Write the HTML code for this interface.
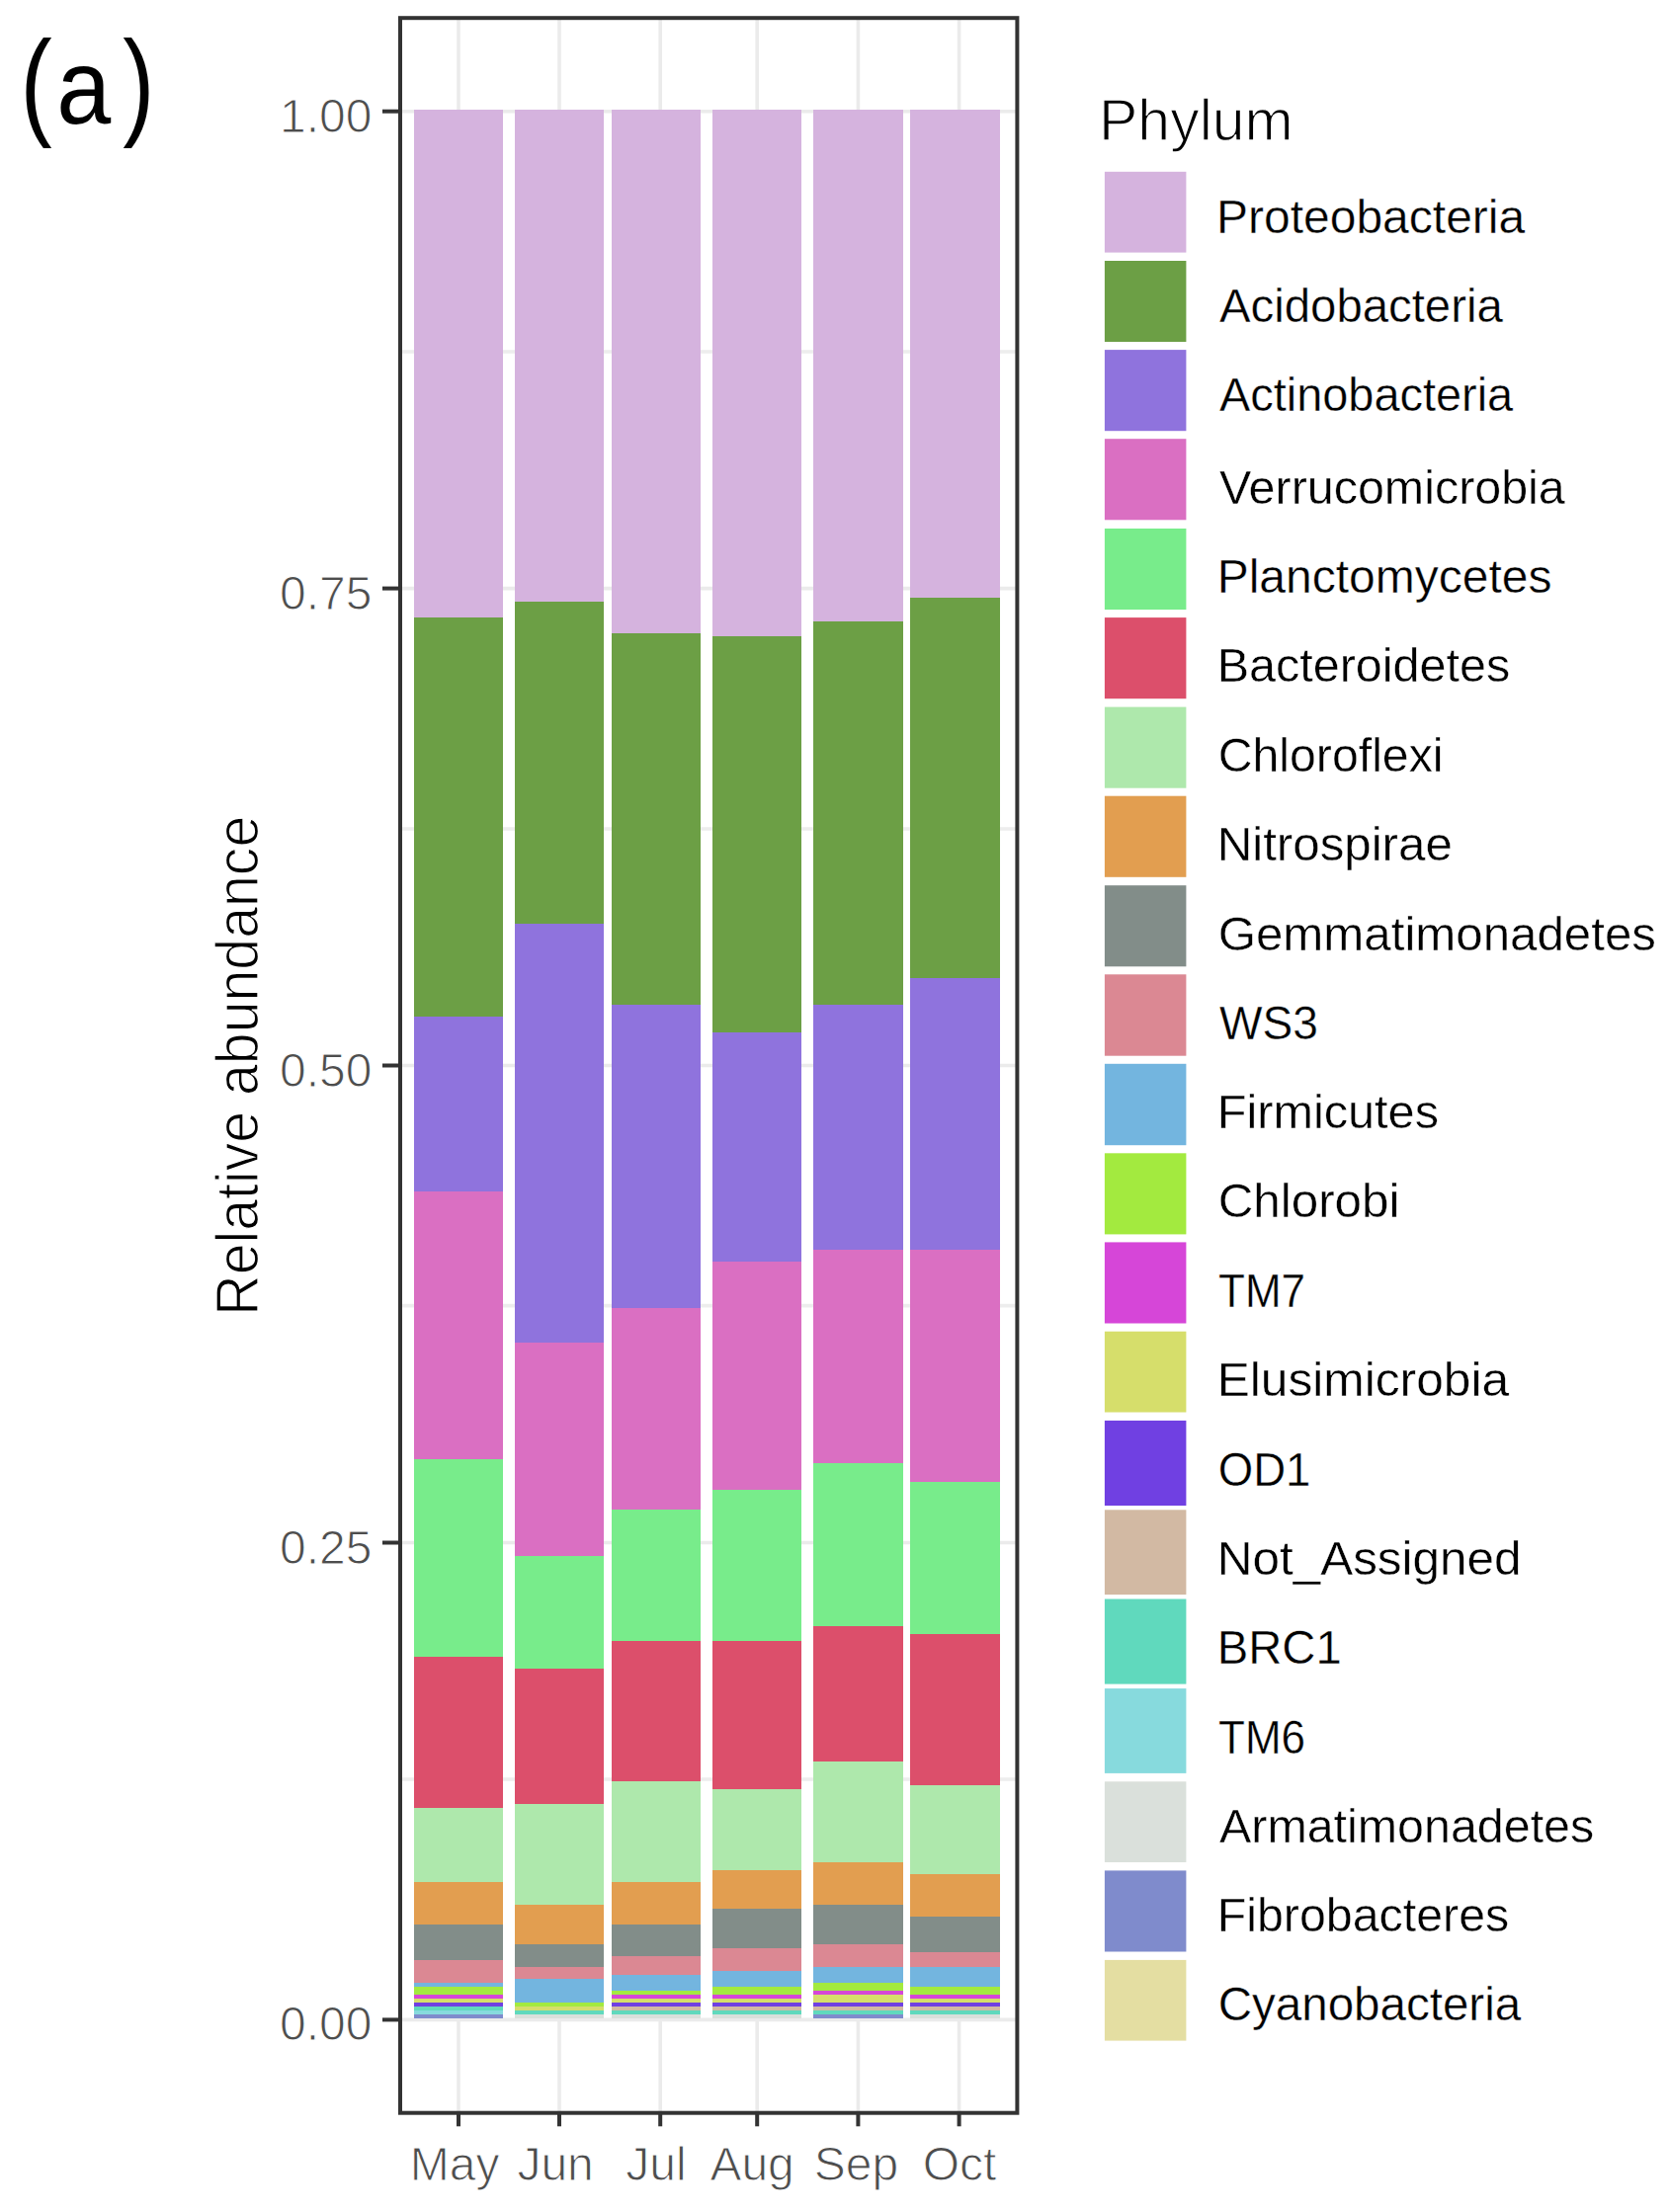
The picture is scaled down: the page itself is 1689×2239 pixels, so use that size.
<!DOCTYPE html>
<html lang="en"><head><meta charset="utf-8"><title>Relative abundance by Phylum</title>
<style>html,body{margin:0;padding:0;background:#fff}svg{display:block}text{font-family:"Liberation Sans",sans-serif}.ax{font-size:48px;fill:#4d4d4d;stroke:#fff;stroke-width:1px}.lg{font-size:48px;fill:#000;stroke:#fff;stroke-width:.4px}.tt{font-size:59px;fill:#000;stroke:#fff;stroke-width:1.3px}</style></head><body>
<svg width="1689" height="2239" viewBox="0 0 1689 2239">
<rect width="1689" height="2239" fill="#fff"/>
<g stroke="#ebebeb" fill="none">
<line x1="405" x2="1029.4" y1="356.0" y2="356.0" stroke-width="3.6" stroke="#ededed"/>
<line x1="405" x2="1029.4" y1="839.0" y2="839.0" stroke-width="3.6" stroke="#ededed"/>
<line x1="405" x2="1029.4" y1="1321.6" y2="1321.6" stroke-width="3.6" stroke="#ededed"/>
<line x1="405" x2="1029.4" y1="1801.0" y2="1801.0" stroke-width="3.6" stroke="#ededed"/>
<line x1="405" x2="1029.4" y1="112.7" y2="112.7" stroke-width="3.6"/>
<line x1="405" x2="1029.4" y1="595.6" y2="595.6" stroke-width="3.6"/>
<line x1="405" x2="1029.4" y1="1078.5" y2="1078.5" stroke-width="3.6"/>
<line x1="405" x2="1029.4" y1="1561.5" y2="1561.5" stroke-width="3.6"/>
<line x1="405" x2="1029.4" y1="2044.4" y2="2044.4" stroke-width="3.6"/>
<line x1="464" x2="464" y1="18.2" y2="2138.7" stroke-width="3.6"/>
<line x1="566" x2="566" y1="18.2" y2="2138.7" stroke-width="3.6"/>
<line x1="668.2" x2="668.2" y1="18.2" y2="2138.7" stroke-width="3.6"/>
<line x1="766.2" x2="766.2" y1="18.2" y2="2138.7" stroke-width="3.6"/>
<line x1="868.4" x2="868.4" y1="18.2" y2="2138.7" stroke-width="3.6"/>
<line x1="970.6" x2="970.6" y1="18.2" y2="2138.7" stroke-width="3.6"/>
</g>
<g shape-rendering="crispEdges">
<rect x="418.6" y="111" width="90.4" height="514.1" fill="#D5B3DE"/>
<rect x="418.6" y="624.8" width="90.4" height="404.8" fill="#6C9F45"/>
<rect x="418.6" y="1029.3" width="90.4" height="176.8" fill="#8F73DD"/>
<rect x="418.6" y="1205.8" width="90.4" height="271.0" fill="#DA6FC2"/>
<rect x="418.6" y="1476.5" width="90.4" height="200.9" fill="#78EC8B"/>
<rect x="418.6" y="1677.1" width="90.4" height="153.2" fill="#DC4F6B"/>
<rect x="418.6" y="1830" width="90.4" height="75.1" fill="#AEE8AC"/>
<rect x="418.6" y="1904.8" width="90.4" height="43.3" fill="#E29E50"/>
<rect x="418.6" y="1947.8" width="90.4" height="36.0" fill="#828D89"/>
<rect x="418.6" y="1983.5" width="90.4" height="24.0" fill="#DB8893"/>
<rect x="418.6" y="2007.2" width="90.4" height="4.1" fill="#73B5DF"/>
<rect x="418.6" y="2011" width="90.4" height="8.2" fill="#A3EA3F"/>
<rect x="418.6" y="2018.9" width="90.4" height="4.5" fill="#D646D8"/>
<rect x="418.6" y="2023.1" width="90.4" height="4.1" fill="#D6DE6B"/>
<rect x="418.6" y="2026.9" width="90.4" height="4.3" fill="#7040E2"/>
<rect x="418.6" y="2030.9" width="90.4" height="4.2" fill="#60D9BD"/>
<rect x="418.6" y="2034.8" width="90.4" height="4.3" fill="#87DADD"/>
<rect x="418.6" y="2038.8" width="90.4" height="4.1" fill="#7F8BCC"/>
<rect x="520.8" y="111" width="90.2" height="498.4" fill="#D5B3DE"/>
<rect x="520.8" y="609.1" width="90.2" height="326.2" fill="#6C9F45"/>
<rect x="520.8" y="935" width="90.2" height="424.1" fill="#8F73DD"/>
<rect x="520.8" y="1358.8" width="90.2" height="216.2" fill="#DA6FC2"/>
<rect x="520.8" y="1574.7" width="90.2" height="114.6" fill="#78EC8B"/>
<rect x="520.8" y="1689" width="90.2" height="137.5" fill="#DC4F6B"/>
<rect x="520.8" y="1826.2" width="90.2" height="102.3" fill="#AEE8AC"/>
<rect x="520.8" y="1928.2" width="90.2" height="39.9" fill="#E29E50"/>
<rect x="520.8" y="1967.8" width="90.2" height="23.8" fill="#828D89"/>
<rect x="520.8" y="1991.3" width="90.2" height="12.1" fill="#DB8893"/>
<rect x="520.8" y="2003.1" width="90.2" height="24.1" fill="#73B5DF"/>
<rect x="520.8" y="2026.9" width="90.2" height="4.3" fill="#A3EA3F"/>
<rect x="520.8" y="2030.9" width="90.2" height="4.2" fill="#D6DE6B"/>
<rect x="520.8" y="2034.8" width="90.2" height="4.3" fill="#60D9BD"/>
<rect x="520.8" y="2038.8" width="90.2" height="4.1" fill="#DAE0DB"/>
<rect x="619.0" y="111" width="90.2" height="529.8" fill="#D5B3DE"/>
<rect x="619.0" y="640.5" width="90.2" height="377.2" fill="#6C9F45"/>
<rect x="619.0" y="1017.4" width="90.2" height="306.8" fill="#8F73DD"/>
<rect x="619.0" y="1323.9" width="90.2" height="203.9" fill="#DA6FC2"/>
<rect x="619.0" y="1527.5" width="90.2" height="134.1" fill="#78EC8B"/>
<rect x="619.0" y="1661.3" width="90.2" height="141.5" fill="#DC4F6B"/>
<rect x="619.0" y="1802.5" width="90.2" height="102.6" fill="#AEE8AC"/>
<rect x="619.0" y="1904.8" width="90.2" height="43.3" fill="#E29E50"/>
<rect x="619.0" y="1947.8" width="90.2" height="32.1" fill="#828D89"/>
<rect x="619.0" y="1979.6" width="90.2" height="20.0" fill="#DB8893"/>
<rect x="619.0" y="1999.3" width="90.2" height="16.0" fill="#73B5DF"/>
<rect x="619.0" y="2015" width="90.2" height="4.2" fill="#A3EA3F"/>
<rect x="619.0" y="2018.9" width="90.2" height="4.5" fill="#D646D8"/>
<rect x="619.0" y="2023.1" width="90.2" height="4.1" fill="#D6DE6B"/>
<rect x="619.0" y="2026.9" width="90.2" height="4.3" fill="#7040E2"/>
<rect x="619.0" y="2030.9" width="90.2" height="4.2" fill="#D2B9A3"/>
<rect x="619.0" y="2034.8" width="90.2" height="4.3" fill="#60D9BD"/>
<rect x="619.0" y="2038.8" width="90.2" height="4.1" fill="#DAE0DB"/>
<rect x="721.0" y="111" width="90.3" height="533.7" fill="#D5B3DE"/>
<rect x="721.0" y="644.4" width="90.3" height="400.9" fill="#6C9F45"/>
<rect x="721.0" y="1045" width="90.3" height="232.0" fill="#8F73DD"/>
<rect x="721.0" y="1276.7" width="90.3" height="231.6" fill="#DA6FC2"/>
<rect x="721.0" y="1508" width="90.3" height="153.6" fill="#78EC8B"/>
<rect x="721.0" y="1661.3" width="90.3" height="149.5" fill="#DC4F6B"/>
<rect x="721.0" y="1810.5" width="90.3" height="82.8" fill="#AEE8AC"/>
<rect x="721.0" y="1893" width="90.3" height="39.7" fill="#E29E50"/>
<rect x="721.0" y="1932.4" width="90.3" height="39.6" fill="#828D89"/>
<rect x="721.0" y="1971.7" width="90.3" height="23.9" fill="#DB8893"/>
<rect x="721.0" y="1995.3" width="90.3" height="16.0" fill="#73B5DF"/>
<rect x="721.0" y="2011" width="90.3" height="8.2" fill="#A3EA3F"/>
<rect x="721.0" y="2018.9" width="90.3" height="4.5" fill="#D646D8"/>
<rect x="721.0" y="2023.1" width="90.3" height="4.1" fill="#D6DE6B"/>
<rect x="721.0" y="2026.9" width="90.3" height="4.3" fill="#7040E2"/>
<rect x="721.0" y="2030.9" width="90.3" height="4.2" fill="#D2B9A3"/>
<rect x="721.0" y="2034.8" width="90.3" height="4.3" fill="#60D9BD"/>
<rect x="721.0" y="2038.8" width="90.3" height="4.1" fill="#DAE0DB"/>
<rect x="823.2" y="111" width="90.4" height="518.3" fill="#D5B3DE"/>
<rect x="823.2" y="629" width="90.4" height="388.7" fill="#6C9F45"/>
<rect x="823.2" y="1017.4" width="90.4" height="247.7" fill="#8F73DD"/>
<rect x="823.2" y="1264.8" width="90.4" height="216.2" fill="#DA6FC2"/>
<rect x="823.2" y="1480.7" width="90.4" height="165.2" fill="#78EC8B"/>
<rect x="823.2" y="1645.6" width="90.4" height="138.0" fill="#DC4F6B"/>
<rect x="823.2" y="1783.3" width="90.4" height="102.3" fill="#AEE8AC"/>
<rect x="823.2" y="1885.3" width="90.4" height="43.2" fill="#E29E50"/>
<rect x="823.2" y="1928.2" width="90.4" height="39.9" fill="#828D89"/>
<rect x="823.2" y="1967.8" width="90.4" height="23.9" fill="#DB8893"/>
<rect x="823.2" y="1991.4" width="90.4" height="16.1" fill="#73B5DF"/>
<rect x="823.2" y="2007.2" width="90.4" height="8.1" fill="#A3EA3F"/>
<rect x="823.2" y="2015" width="90.4" height="4.2" fill="#D646D8"/>
<rect x="823.2" y="2018.9" width="90.4" height="8.3" fill="#D6DE6B"/>
<rect x="823.2" y="2026.9" width="90.4" height="4.3" fill="#7040E2"/>
<rect x="823.2" y="2030.9" width="90.4" height="4.2" fill="#D2B9A3"/>
<rect x="823.2" y="2034.8" width="90.4" height="4.3" fill="#60D9BD"/>
<rect x="823.2" y="2038.8" width="90.4" height="4.1" fill="#7F8BCC"/>
<rect x="921.4" y="111" width="90.4" height="494.5" fill="#D5B3DE"/>
<rect x="921.4" y="605.2" width="90.4" height="385.3" fill="#6C9F45"/>
<rect x="921.4" y="990.2" width="90.4" height="274.9" fill="#8F73DD"/>
<rect x="921.4" y="1264.8" width="90.4" height="235.8" fill="#DA6FC2"/>
<rect x="921.4" y="1500.3" width="90.4" height="153.7" fill="#78EC8B"/>
<rect x="921.4" y="1653.7" width="90.4" height="153.6" fill="#DC4F6B"/>
<rect x="921.4" y="1807" width="90.4" height="90.1" fill="#AEE8AC"/>
<rect x="921.4" y="1896.8" width="90.4" height="43.6" fill="#E29E50"/>
<rect x="921.4" y="1940.1" width="90.4" height="35.8" fill="#828D89"/>
<rect x="921.4" y="1975.6" width="90.4" height="16.1" fill="#DB8893"/>
<rect x="921.4" y="1991.4" width="90.4" height="19.9" fill="#73B5DF"/>
<rect x="921.4" y="2011" width="90.4" height="8.2" fill="#A3EA3F"/>
<rect x="921.4" y="2018.9" width="90.4" height="4.5" fill="#D646D8"/>
<rect x="921.4" y="2023.1" width="90.4" height="4.1" fill="#D6DE6B"/>
<rect x="921.4" y="2026.9" width="90.4" height="4.3" fill="#7040E2"/>
<rect x="921.4" y="2030.9" width="90.4" height="4.2" fill="#D2B9A3"/>
<rect x="921.4" y="2034.8" width="90.4" height="4.3" fill="#60D9BD"/>
<rect x="921.4" y="2038.8" width="90.4" height="4.1" fill="#DAE0DB"/>
</g>
<rect x="405" y="18.2" width="624.4" height="2120.5" fill="none" stroke="#333" stroke-width="4"/>
<g stroke="#333" stroke-width="4">
<line x1="387" x2="403.5" y1="112.7" y2="112.7"/>
<line x1="387" x2="403.5" y1="595.6" y2="595.6"/>
<line x1="387" x2="403.5" y1="1078.5" y2="1078.5"/>
<line x1="387" x2="403.5" y1="1561.5" y2="1561.5"/>
<line x1="387" x2="403.5" y1="2044.4" y2="2044.4"/>
<line x1="464" x2="464" y1="2140" y2="2152.3"/>
<line x1="566" x2="566" y1="2140" y2="2152.3"/>
<line x1="668.2" x2="668.2" y1="2140" y2="2152.3"/>
<line x1="766.2" x2="766.2" y1="2140" y2="2152.3"/>
<line x1="868.4" x2="868.4" y1="2140" y2="2152.3"/>
<line x1="970.6" x2="970.6" y1="2140" y2="2152.3"/>
</g>
<text class="ax" x="376.5" y="133.7" text-anchor="end">1.00</text>
<text class="ax" x="376.5" y="616.6" text-anchor="end">0.75</text>
<text class="ax" x="376.5" y="1099.5" text-anchor="end">0.50</text>
<text class="ax" x="376.5" y="1582.5" text-anchor="end">0.25</text>
<text class="ax" x="376.5" y="2065.4" text-anchor="end">0.00</text>
<text class="ax" x="460.2" y="2206.6" text-anchor="middle">May</text>
<text class="ax" x="562.1" y="2206.6" text-anchor="middle">Jun</text>
<text class="ax" x="664.0" y="2206.6" text-anchor="middle">Jul</text>
<text class="ax" x="761.1" y="2206.6" text-anchor="middle">Aug</text>
<text class="ax" x="866.5" y="2206.6" text-anchor="middle">Sep</text>
<text class="ax" x="971.0" y="2206.6" text-anchor="middle">Oct</text>
<text class="tt" style="font-size:62px" transform="translate(260.5,1078.7) rotate(-90)" text-anchor="middle" textLength="506" lengthAdjust="spacingAndGlyphs">Relative abundance</text>
<text y="124.5" fill="#000" font-size="121"><tspan x="20.5" textLength="32.2" lengthAdjust="spacingAndGlyphs">(</tspan><tspan x="57.2" font-size="107" textLength="55" lengthAdjust="spacingAndGlyphs">a</tspan><tspan x="124.2" textLength="32.2" lengthAdjust="spacingAndGlyphs">)</tspan></text>
<text class="tt" x="1112" y="142.2">Phylum</text>
<rect x="1117.9" y="173.8" width="82.5" height="81.8" fill="#D5B3DE"/>
<text class="lg" x="1231.0" y="235.9" textLength="312.2" lengthAdjust="spacingAndGlyphs">Proteobacteria</text>
<rect x="1117.9" y="264" width="82.5" height="82.0" fill="#6C9F45"/>
<text class="lg" x="1234.0" y="325.6" textLength="286.8" lengthAdjust="spacingAndGlyphs">Acidobacteria</text>
<rect x="1117.9" y="354.1" width="82.5" height="82.1" fill="#8F73DD"/>
<text class="lg" x="1234.0" y="415.8" textLength="297.2" lengthAdjust="spacingAndGlyphs">Actinobacteria</text>
<rect x="1117.9" y="444.2" width="82.5" height="82.1" fill="#DA6FC2"/>
<text class="lg" x="1234.0" y="509.5" textLength="349.8" lengthAdjust="spacingAndGlyphs">Verrucomicrobia</text>
<rect x="1117.9" y="535" width="82.5" height="82.1" fill="#78EC8B"/>
<text class="lg" x="1231.7" y="600.3" textLength="338.8" lengthAdjust="spacingAndGlyphs">Planctomycetes</text>
<rect x="1117.9" y="625.1" width="82.5" height="82.1" fill="#DC4F6B"/>
<text class="lg" x="1231.7" y="690" textLength="296.5" lengthAdjust="spacingAndGlyphs">Bacteroidetes</text>
<rect x="1117.9" y="715.6" width="82.5" height="82.1" fill="#AEE8AC"/>
<text class="lg" x="1232.7" y="780.5" textLength="227.8" lengthAdjust="spacingAndGlyphs">Chloroflexi</text>
<rect x="1117.9" y="805.7" width="82.5" height="82.1" fill="#E29E50"/>
<text class="lg" x="1231.7" y="871" textLength="238.1" lengthAdjust="spacingAndGlyphs">Nitrospirae</text>
<rect x="1117.9" y="896.2" width="82.5" height="82.1" fill="#828D89"/>
<text class="lg" x="1232.7" y="961.5" textLength="443.2" lengthAdjust="spacingAndGlyphs">Gemmatimonadetes</text>
<rect x="1117.9" y="986.3" width="82.5" height="82.4" fill="#DB8893"/>
<text class="lg" x="1234.0" y="1052" textLength="100.0" lengthAdjust="spacingAndGlyphs">WS3</text>
<rect x="1117.9" y="1076.8" width="82.5" height="82.4" fill="#73B5DF"/>
<text class="lg" x="1231.7" y="1141.7" textLength="224.3" lengthAdjust="spacingAndGlyphs">Firmicutes</text>
<rect x="1117.9" y="1167.3" width="82.5" height="82.1" fill="#A3EA3F"/>
<text class="lg" x="1232.7" y="1231.8" textLength="183.8" lengthAdjust="spacingAndGlyphs">Chlorobi</text>
<rect x="1117.9" y="1257.4" width="82.5" height="82.1" fill="#D646D8"/>
<text class="lg" x="1233.0" y="1323.1" textLength="88.0" lengthAdjust="spacingAndGlyphs">TM7</text>
<rect x="1117.9" y="1347.7" width="82.5" height="81.8" fill="#D6DE6B"/>
<text class="lg" x="1231.7" y="1413" textLength="295.4" lengthAdjust="spacingAndGlyphs">Elusimicrobia</text>
<rect x="1117.9" y="1437.9" width="82.5" height="86.1" fill="#7040E2"/>
<text class="lg" x="1232.7" y="1503.5" textLength="93.7" lengthAdjust="spacingAndGlyphs">OD1</text>
<rect x="1117.9" y="1528.3" width="82.5" height="85.8" fill="#D2B9A3"/>
<text class="lg" x="1231.7" y="1593.7" textLength="307.9" lengthAdjust="spacingAndGlyphs">Not_Assigned</text>
<rect x="1117.9" y="1618.5" width="82.5" height="86.1" fill="#60D9BD"/>
<text class="lg" x="1231.7" y="1684.2" textLength="126.1" lengthAdjust="spacingAndGlyphs">BRC1</text>
<rect x="1117.9" y="1709.1" width="82.5" height="85.8" fill="#87DADD"/>
<text class="lg" x="1233.0" y="1774.8" textLength="88.0" lengthAdjust="spacingAndGlyphs">TM6</text>
<rect x="1117.9" y="1803.3" width="82.5" height="81.7" fill="#DAE0DB"/>
<text class="lg" x="1234.0" y="1865.3" textLength="379.2" lengthAdjust="spacingAndGlyphs">Armatimonadetes</text>
<rect x="1117.9" y="1893.4" width="82.5" height="82.1" fill="#7F8BCC"/>
<text class="lg" x="1231.7" y="1955.4" textLength="295.5" lengthAdjust="spacingAndGlyphs">Fibrobacteres</text>
<rect x="1117.9" y="1983.9" width="82.5" height="81.7" fill="#E4DEA2"/>
<text class="lg" x="1232.7" y="2044.8" textLength="306.5" lengthAdjust="spacingAndGlyphs">Cyanobacteria</text>
</svg></body></html>
